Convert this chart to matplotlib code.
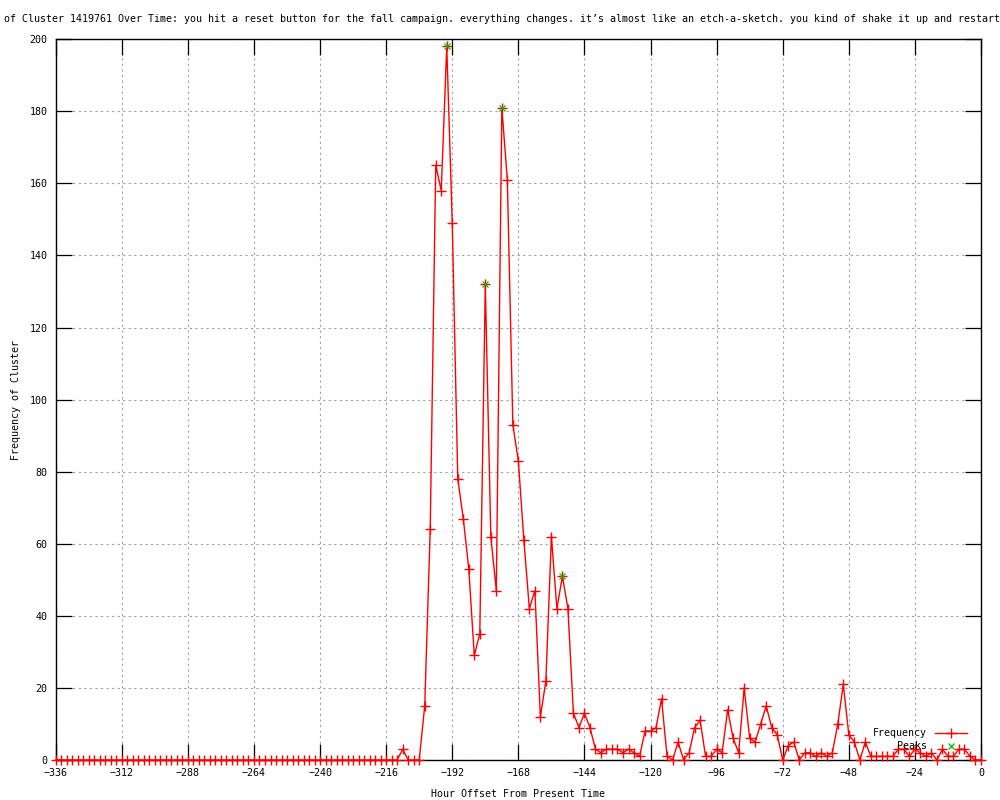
import matplotlib
matplotlib.use("Agg")
import matplotlib.pyplot as plt
import numpy as np

# hours before present, one sample every 2 hours
hours = np.arange(-336, 1, 2)

frequency = [
    0, 0, 0, 0, 0, 0, 0, 0, 0, 0, 0, 0, 0, 0, 0, 0,
    0, 0, 0, 0, 0, 0, 0, 0, 0, 0, 0, 0, 0, 0, 0, 0,
    0, 0, 0, 0, 0, 0, 0, 0, 0, 0, 0, 0, 0, 0, 0, 0,
    0, 0, 0, 0, 0, 0, 0, 0, 0, 0, 0, 0, 0, 0, 0,
    3, 0, 0, 0, 15, 64, 165, 158, 198, 149, 78, 67, 53, 29, 35, 132,
    62, 47, 181, 161, 93, 83, 61, 42, 47, 12, 22, 62, 42, 51, 42, 13,
    9, 13, 9, 3, 2, 3, 3, 3, 2, 3, 2, 1, 8, 8, 9, 17,
    1, 0, 5, 0, 2, 9, 11, 1, 1, 3, 2, 14, 6, 2, 20, 6,
    5, 10, 15, 9, 7, 0, 4, 5, 0, 2, 2, 1, 2, 1, 2, 10,
    21, 7, 5, 0, 5, 1, 1, 1, 1, 1, 3, 3, 1, 3, 2, 1,
    2, 0, 3, 1, 1, 3, 3, 1, 0, 0,
]

peak_hours = [-194, -180, -174, -152]
peak_values = [198, 132, 181, 51]

title_text = ("of Cluster 1419761 Over Time: you hit a reset button for the fall campaign. "
              "everything changes. it\u2019s almost like an etch-a-sketch. "
              "you kind of shake it up and restart")

mono = "DejaVu Sans Mono"
fs = 7.2
red = "#ff0000"
green = "#00c000"

fig = plt.figure(figsize=(10, 8), dpi=100)
ax = fig.add_axes([0.0557, 0.05, 0.981 - 0.0557, 0.951 - 0.05])

ax.plot(hours, frequency, color=red, lw=1.0, marker="+", ms=6.5, mew=1.0,
        clip_on=False, zorder=3)
ax.plot(peak_hours, peak_values, color=green, lw=0, marker="x", ms=4.5, mew=0.9,
        clip_on=False, zorder=4)

ax.set_xlim(-336, 0)
ax.set_ylim(0, 200)
ax.set_xticks(np.arange(-336, 1, 24))
ax.set_yticks(np.arange(0, 201, 20))
ax.tick_params(direction="in", length=11.5, width=0.9, top=True, right=True,
               labelsize=fs, pad=6)
for lab in ax.get_xticklabels() + ax.get_yticklabels():
    lab.set_family(mono)
ax.grid(True, color="#a0a0a0", lw=0.8, linestyle=(0, (2, 3)))
ax.set_axisbelow(True)
for s in ax.spines.values():
    s.set_linewidth(1.0)

ax.set_xlabel("Hour Offset From Present Time", family=mono, fontsize=fs, labelpad=8)
ax.set_ylabel("Frequency of Cluster", family=mono, fontsize=fs, labelpad=6)
fig.text(0.004, 0.976, title_text, family=mono, fontsize=fs, ha="left", va="center")

# gnuplot-style key, bottom right, text right aligned
tx = 0.942
ax.text(tx, 0.0375, "Frequency", family=mono, fontsize=fs, ha="right", va="center",
        transform=ax.transAxes, zorder=5)
ax.text(tx, 0.0195, "Peaks", family=mono, fontsize=fs, ha="right", va="center",
        transform=ax.transAxes, zorder=5)
ax.plot([0.950, 0.985], [0.0375, 0.0375], color=red, lw=1.0, transform=ax.transAxes,
        zorder=5)
ax.plot([0.9675], [0.0375], color=red, marker="+", ms=6.5, mew=1.0,
        transform=ax.transAxes, zorder=5)
ax.plot([0.9675], [0.0195], color=green, marker="x", ms=4.5, mew=0.9,
        transform=ax.transAxes, zorder=5)

fig.savefig("out.png", dpi=100)
